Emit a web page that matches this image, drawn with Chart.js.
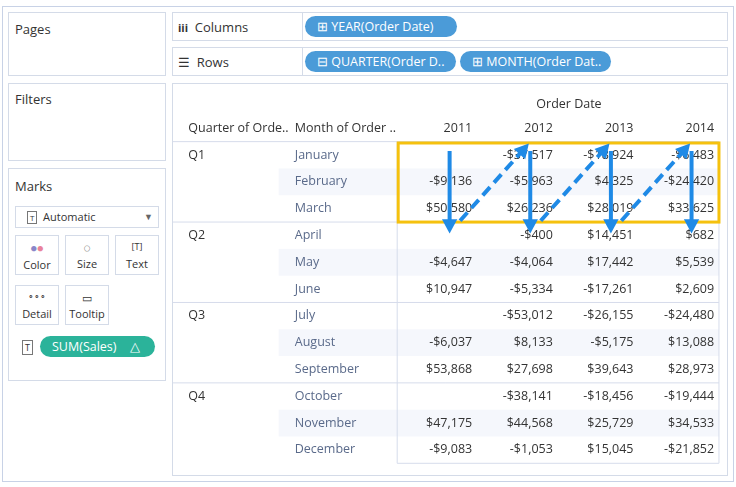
<!DOCTYPE html>
<html><head><meta charset="utf-8">
<script src="https://cdn.jsdelivr.net/npm/chart.js@4"></script>
<style>
body{margin:0;width:736px;height:487px;background:#fff;font-family:"Open Sans",Lato,sans-serif;color:#333;position:relative;overflow:hidden}
.box{position:absolute;border:1px solid #d4dbe8;background:#fff;box-sizing:border-box}
.lbl{position:absolute;font-size:13px;color:#333}
.pill{position:absolute;height:21px;border-radius:11px;background:#4b9bd8;color:#fff;font-size:12.5px;line-height:21px;padding-left:12px;box-sizing:border-box;white-space:nowrap;overflow:hidden}
.card{position:absolute;border:1px solid #d4dbe8;width:44px;height:40px;box-sizing:border-box;font-size:11px;text-align:center;color:#333}
</style></head><body>
<div class="box" style="left:2px;top:6px;width:732px;height:476px;border-color:#c8d2e6"></div>
<div class="box" style="left:8px;top:12px;width:158px;height:64px"></div><div class="lbl" style="left:15px;top:20px">Pages</div>
<div class="box" style="left:8px;top:83px;width:158px;height:78px"></div><div class="lbl" style="left:15px;top:90px">Filters</div>
<div class="box" style="left:8px;top:168px;width:158px;height:213px"></div><div class="lbl" style="left:15px;top:177px">Marks</div>
<div class="box" style="left:15px;top:206px;width:144px;height:22px"></div>
<div class="lbl" style="left:27px;top:209px;font-size:11px"><span style="border:1px solid #777;font-size:8px;padding:0 2px">T</span>&nbsp; Automatic</div>
<div class="lbl" style="left:144px;top:210px;font-size:9px;color:#666">▼</div>
<div class="card" style="left:15px;top:235px"><div style="margin-top:4px;color:#8a86c9">●<span style="color:#e9829a">●</span></div><div style="margin-top:2px">Color</div></div>
<div class="card" style="left:65px;top:235px"><div style="margin-top:4px">◌</div><div style="margin-top:1px">Size</div></div>
<div class="card" style="left:115px;top:235px"><div style="margin-top:4px;font-size:9px">[T]</div><div style="margin-top:3px">Text</div></div>
<div class="card" style="left:15px;top:285px"><div style="margin-top:4px;font-size:9px">∘∘∘</div><div style="margin-top:3px">Detail</div></div>
<div class="card" style="left:65px;top:285px"><div style="margin-top:4px">▭</div><div style="margin-top:1px">Tooltip</div></div>
<div class="lbl" style="left:22px;top:340px;font-size:9px;border:1px solid #777;padding:0 2px">T</div>
<div class="pill" style="left:40px;top:336px;width:115px;background:#2bb39a">SUM(Sales)&nbsp;&nbsp;&nbsp; △</div>
<div class="box" style="left:172px;top:12px;width:556px;height:29px"></div>
<div class="box" style="left:172px;top:12px;width:131px;height:29px"></div>
<div class="lbl" style="left:178px;top:18px"><b style="font-size:11px">iii</b>&nbsp; Columns</div>
<div class="box" style="left:172px;top:47px;width:556px;height:29px"></div>
<div class="box" style="left:172px;top:47px;width:131px;height:29px"></div>
<div class="lbl" style="left:178px;top:53px">☰&nbsp; Rows</div>
<div class="pill" style="left:305px;top:16px;width:152px">⊞ YEAR(Order Date)</div>
<div class="pill" style="left:305px;top:51px;width:151px">⊟ QUARTER(Order D..</div>
<div class="pill" style="left:460px;top:51px;width:151px">⊞ MONTH(Order Dat..</div>
<div class="box" style="left:172px;top:83px;width:556px;height:393px"></div>
<div style="position:absolute;left:173px;top:80px;width:550px;height:390px"><canvas id="c"></canvas></div>
<script>
const years=["2011","2012","2013","2014"];
const quarters=["Q1","Q2","Q3","Q4"];
const months=["January","February","March","April","May","June","July","August","September","October","November","December"];
const v2011=[null,-9136,50580,null,-4647,10947,null,-6037,53868,null,47175,-9083];
const v2012=[-37517,-5963,26236,-400,-4064,-5334,-53012,8133,27698,-38141,44568,-1053];
const v2013=[-18924,4325,28019,14451,17442,-17261,-26155,-5175,39643,-18456,25729,15045];
const v2014=[-6483,-24420,33625,682,5539,2609,-24480,13088,28973,-19444,34533,-21852];
const series=[v2011,v2012,v2013,v2014];
const fmt=v=>v==null?"":(v<0?"-":"")+"$"+Math.abs(v).toLocaleString("en-US");
const arrowDown=years.map((y,i)=>[{x:i-0.28,y:-0.15},{x:i-0.28,y:2.55}]);
const arrowDiag=[0,1,2].map(i=>[{x:i-0.15,y:2.45},{x:i+1-0.38,y:-0.15}]);
const BLUE="#1f8ae6";
const datasets=[];
arrowDown.forEach(d=>datasets.push({data:d,borderColor:BLUE,borderWidth:4,pointRadius:0,showLine:true,head:true}));
arrowDiag.forEach(d=>datasets.push({data:d,borderColor:BLUE,borderWidth:4,borderDash:[11,6],pointRadius:0,showLine:true,head:true}));
const tablePlugin={id:"tbl",beforeDatasetsDraw(ch){
 const c=ch.ctx,X=ch.scales.x,Y=ch.scales.y;
 const px=v=>X.getPixelForValue(v),py=v=>Y.getPixelForValue(v);
 const L=px(-3.71),R=px(3.06),V=px(-0.93);
 c.save();
 c.fillStyle="#f5f7fc";
 [1,4,7,10].forEach(r=>c.fillRect(px(-2.4),py(r-0.5),R-px(-2.4),py(r+0.5)-py(r-0.5)));
 c.strokeStyle="#d6dceb";c.lineWidth=1;
 [-0.5,2.5,5.5,8.5].forEach(r=>{c.beginPath();c.moveTo(L,py(r));c.lineTo(R,py(r));c.stroke();});
 c.beginPath();c.moveTo(V,py(-0.5));c.lineTo(V,py(11.5));c.lineTo(R,py(11.5));c.moveTo(R,py(-0.5));c.lineTo(R,py(11.5));c.stroke();
 c.fillStyle="#333";c.font="12.5px 'Open Sans'";c.textBaseline="middle";
 c.textAlign="center";c.fillText("Order Date",px(1.2),py(-1.9));
 c.textAlign="left";c.fillText("Quarter of Orde..",px(-3.52),py(-1));c.fillText("Month of Order ..",px(-2.2),py(-1));
 c.textAlign="right";years.forEach((y,i)=>c.fillText(y,px(i),py(-1)));
 c.textAlign="left";quarters.forEach((q,i)=>c.fillText(q,px(-3.52),py(i*3)));
 c.fillStyle="#5a6a8a";months.forEach((m,i)=>c.fillText(m,px(-2.2),py(i)));
 c.fillStyle="#333";c.textAlign="right";
 series.forEach((s,i)=>s.forEach((v,r)=>c.fillText(fmt(v),px(i),py(r))));
 c.strokeStyle="#f5c10e";c.lineWidth=3;c.strokeRect(V+1,py(-0.45),R-V-1,py(2.5)-py(-0.45));
 c.restore();},
 afterDatasetsDraw(ch){const c=ch.ctx,X=ch.scales.x,Y=ch.scales.y;
 ch.data.datasets.forEach(ds=>{if(!ds.head)return;const a=ds.data[0],b=ds.data[1];
  const x1=X.getPixelForValue(a.x),y1=Y.getPixelForValue(a.y),x2=X.getPixelForValue(b.x),y2=Y.getPixelForValue(b.y);
  const ang=Math.atan2(y2-y1,x2-x1),s=16;const tx=x2+10*Math.cos(ang),ty=y2+10*Math.sin(ang);
  c.save();c.fillStyle=BLUE;c.beginPath();c.moveTo(tx,ty);
  c.lineTo(tx-s*Math.cos(ang-0.5),ty-s*Math.sin(ang-0.5));c.lineTo(tx-s*Math.cos(ang+0.5),ty-s*Math.sin(ang+0.5));c.closePath();c.fill();c.restore();});}};
new Chart(document.getElementById("c"),{type:"scatter",data:{datasets},
 options:{responsive:true,maintainAspectRatio:false,animation:false,events:[],
 layout:{padding:0},plugins:{legend:{display:false},tooltip:{enabled:false}},
 scales:{x:{type:"linear",min:-3.71,max:3.11,display:false},y:{type:"linear",reverse:true,min:-2.8,max:11.75,display:false}}},
 plugins:[tablePlugin]});
</script></body></html>
